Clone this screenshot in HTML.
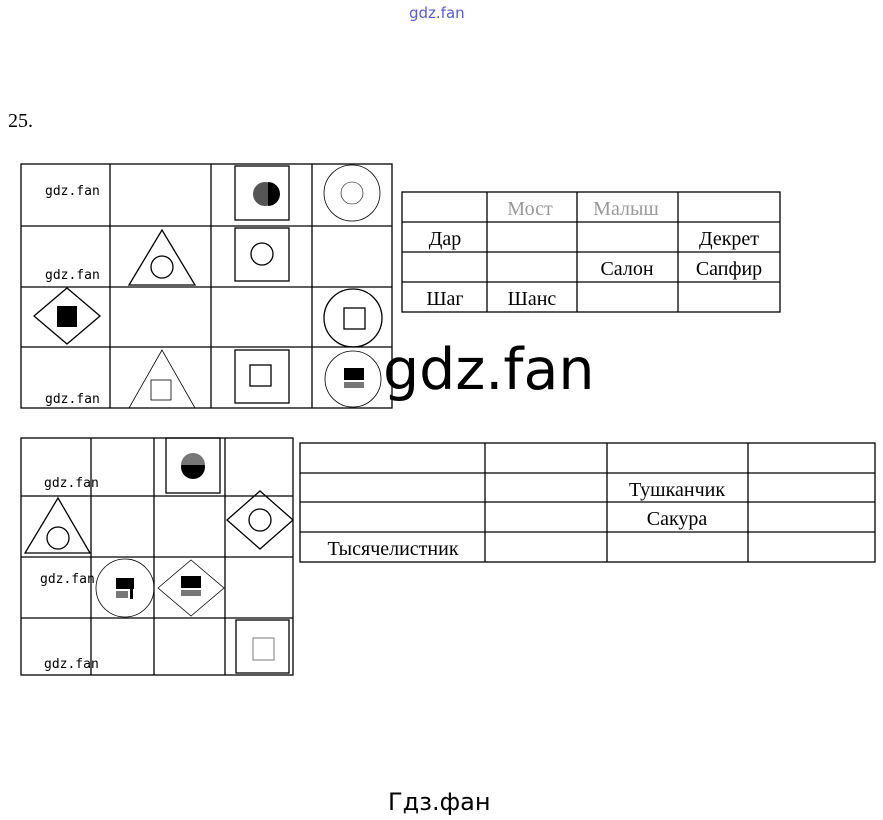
<!DOCTYPE html>
<html><head><meta charset="utf-8"><style>
html,body{margin:0;padding:0;background:#fff;width:883px;height:820px;overflow:hidden}
</style></head><body>
<svg width="883" height="820" viewBox="0 0 883 820" xmlns="http://www.w3.org/2000/svg" font-family="Liberation Serif, DejaVu Serif, serif">
<text x="409" y="18" font-family="DejaVu Sans, sans-serif" font-size="15" fill="#5a5ad8">gdz.fan</text>
<text x="8" y="127" font-size="20" fill="#000">25.</text>

<g stroke="#000" stroke-width="1.3" fill="none">
<rect x="21" y="164" width="371" height="244"/>
<line x1="110" y1="164" x2="110" y2="408"/><line x1="211" y1="164" x2="211" y2="408"/><line x1="312" y1="164" x2="312" y2="408"/>
<line x1="21" y1="226" x2="392" y2="226"/><line x1="21" y1="287" x2="392" y2="287"/><line x1="21" y1="347" x2="392" y2="347"/>
<rect x="235" y="166" width="54" height="54"/>
<circle cx="352" cy="193" r="28" stroke-width="0.8"/><circle cx="352" cy="193" r="11" stroke-width="0.6"/>
<polygon points="162,230 129,285 195,285"/><circle cx="162" cy="267" r="11"/>
<rect x="235" y="228" width="54" height="53"/><circle cx="262" cy="254" r="11"/>
<polygon points="34,316 67,288 100,316 67,344"/>
<circle cx="353" cy="318" r="29"/><rect x="344" y="308" width="21" height="21"/>
<polygon points="162,350 129,408 195,408" stroke-width="0.8"/><rect x="151" y="380" width="20" height="20" stroke-width="0.8"/>
<rect x="235" y="350" width="54" height="53"/><rect x="250" y="365" width="21" height="21"/>
<circle cx="353" cy="379" r="28" stroke-width="0.8"/>
<rect x="402" y="192" width="378" height="120"/>
<line x1="487" y1="192" x2="487" y2="312"/><line x1="577" y1="192" x2="577" y2="312"/><line x1="678" y1="192" x2="678" y2="312"/>
<line x1="402" y1="222" x2="780" y2="222"/><line x1="402" y1="252" x2="780" y2="252"/><line x1="402" y1="282" x2="780" y2="282"/>
<rect x="21" y="438" width="272" height="237"/>
<line x1="91" y1="438" x2="91" y2="675"/><line x1="154" y1="438" x2="154" y2="675"/><line x1="225" y1="438" x2="225" y2="675"/>
<line x1="21" y1="496" x2="293" y2="496"/><line x1="21" y1="557" x2="293" y2="557"/><line x1="21" y1="618" x2="293" y2="618"/>
<rect x="166" y="438" width="54" height="55"/>
<polygon points="58,498 25,553 90,553"/><circle cx="58" cy="538" r="11"/>
<polygon points="227,520 260,491 293,520 260,549"/><circle cx="260" cy="520" r="11"/>
<circle cx="125" cy="588" r="29" stroke-width="0.8"/>
<polygon points="158,588 191,560 224,588 191,616" stroke-width="0.8"/>
<rect x="236" y="620" width="53" height="53"/><rect x="253" y="638" width="21" height="22" stroke="#999"/>
<rect x="300" y="443" width="575" height="119"/>
<line x1="485" y1="443" x2="485" y2="562"/><line x1="607" y1="443" x2="607" y2="562"/><line x1="748" y1="443" x2="748" y2="562"/>
<line x1="300" y1="473" x2="875" y2="473"/><line x1="300" y1="502" x2="875" y2="502"/><line x1="300" y1="532" x2="875" y2="532"/>
</g>
<g stroke="none">
<circle cx="265" cy="194" r="12" fill="#555"/><path d="M268 182 A12 12 0 0 1 268 206 Z" fill="#000"/>
<rect x="57" y="306" width="20" height="21" fill="#000"/>
<rect x="344" y="368" width="20" height="12" fill="#000"/><rect x="344" y="382" width="20" height="6" fill="#777"/>
<circle cx="193" cy="467" r="12" fill="#000"/><path d="M181 465 A12 12 0 0 1 205 465 Z" fill="#777"/>
<rect x="116" y="578" width="18" height="11" fill="#000"/><rect x="116" y="591" width="12" height="7" fill="#777"/><rect x="130" y="589" width="3" height="10" fill="#000"/>
<rect x="181" y="576" width="20" height="12" fill="#000"/><rect x="181" y="590" width="20" height="6" fill="#777"/>
</g>
<g font-family="DejaVu Sans Mono, Liberation Mono, monospace" font-size="13" fill="#000">
<text x="45" y="195">gdz.fan</text><text x="45" y="279">gdz.fan</text><text x="45" y="403">gdz.fan</text>
<text x="44" y="487">gdz.fan</text><text x="40" y="583">gdz.fan</text><text x="44" y="668">gdz.fan</text>
</g>
<g font-size="20" fill="#000" text-anchor="middle">
<text x="530" y="215" fill="#999">Мост</text><text x="626" y="215" fill="#999">Малыш</text>
<text x="445" y="245">Дар</text><text x="729" y="245">Декрет</text>
<text x="627" y="275">Салон</text><text x="729" y="275">Сапфир</text>
<text x="445" y="305">Шаг</text><text x="532" y="305">Шанс</text>
<text x="677" y="496">Тушканчик</text><text x="677" y="525">Сакура</text>
<text x="393" y="555">Тысячелистник</text>
</g>
<text x="383" y="389" font-family="DejaVu Sans, Liberation Sans, sans-serif" font-size="57" fill="#000">gdz.fan</text>
<text x="388" y="810" font-family="DejaVu Sans, Liberation Sans, sans-serif" font-size="24" fill="#000">Гдз.фан</text>
</svg>
</body></html>
